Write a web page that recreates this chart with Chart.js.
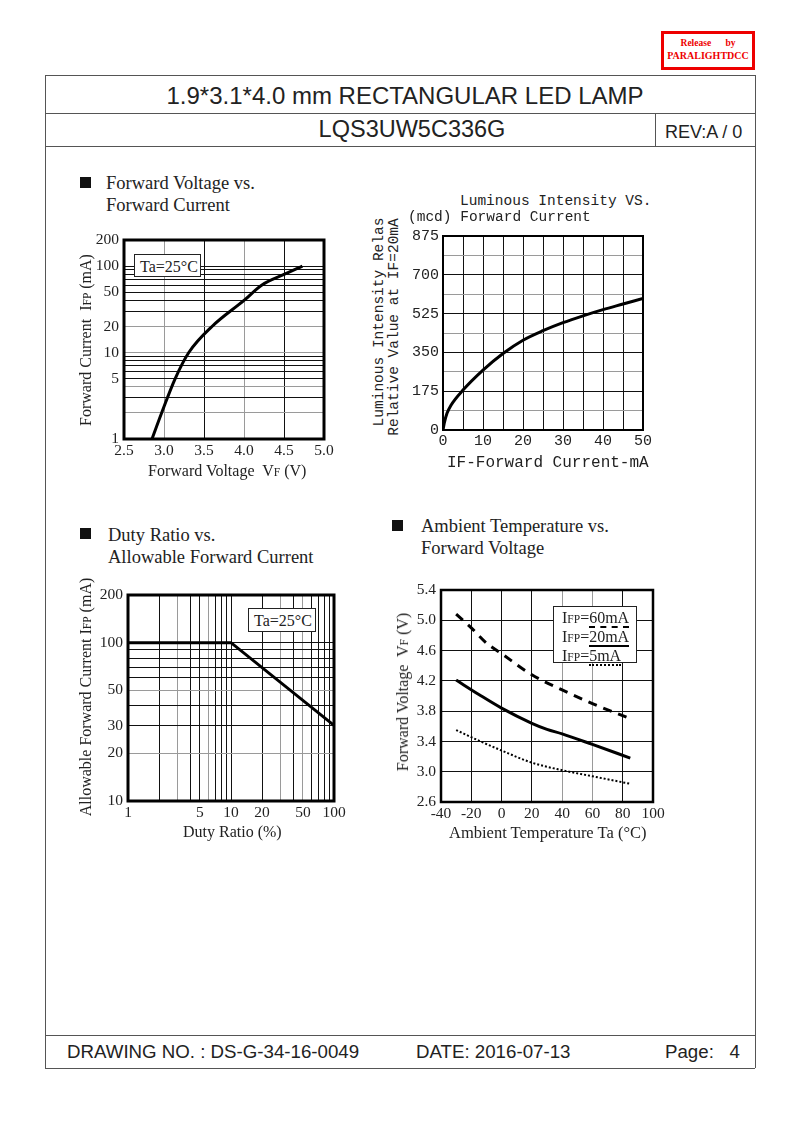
<!DOCTYPE html>
<html>
<head>
<meta charset="utf-8">
<script src="https://cdn.jsdelivr.net/npm/chart.js@4/dist/chart.umd.min.js"></script>
<style>
    body { margin: 0; background: #fff; }
    #page { position: relative; width: 793px; height: 1123px; overflow: hidden; font-family: "Liberation Serif", "Times New Roman", serif; color: #222; }
    .t { position: absolute; white-space: pre; line-height: 1; }
    .hl { position: absolute; height: 0; border-top: 1px solid #555; }
    .vl { position: absolute; width: 0; border-left: 1px solid #555; }
    canvas { position: absolute; }
    .sq { position: absolute; width: 11px; height: 11px; background: #111; }
    .head { position: absolute; font-size: 18.5px; line-height: 22px; white-space: pre; }
    .rot { position: absolute; white-space: pre; line-height: 1; transform: translate(-50%, -50%) rotate(-90deg); }
    .sc { font-size: 0.72em; }
    .box { position: absolute; border: 1px solid #222; background: #fff; font-size: 16px; box-sizing: border-box; z-index: 2; }
    .mono { font-family: "Liberation Mono", "DejaVu Sans Mono", monospace; }
    .sans { font-family: "Liberation Sans", Arial, sans-serif; }
</style>
</head>
<body>
<div id="page">
    <!-- stempel -->
    <div style="position:absolute;left:661px;top:31px;width:94px;height:39px;border:3px solid #e00;box-sizing:border-box;color:#e00;font-weight:bold;font-size:9.5px;text-align:center;">
        <div style="margin-top:4px;white-space:pre">Release      by</div>
        <div style="margin-top:2px;font-size:10px">PARALIGHTDCC</div>
    </div>

    <!-- bingkai halaman -->
    <div class="hl" style="left:45px;top:75px;width:710px"></div>
    <div class="hl" style="left:45px;top:113px;width:710px"></div>
    <div class="hl" style="left:45px;top:146px;width:710px"></div>
    <div class="hl" style="left:45px;top:1035px;width:710px"></div>
    <div class="hl" style="left:45px;top:1068px;width:710px"></div>
    <div class="vl" style="left:45px;top:75px;height:993px"></div>
    <div class="vl" style="left:755px;top:75px;height:993px"></div>
    <div class="vl" style="left:655px;top:113px;height:33px"></div>

    <div class="t sans" style="left:45px;top:84px;width:720px;text-align:center;font-size:24px">1.9*3.1*4.0 mm RECTANGULAR LED LAMP</div>
    <div class="t sans" style="left:170px;top:118px;width:484px;text-align:center;font-size:23.5px">LQS3UW5C336G</div>
    <div class="t sans" style="left:665px;top:123px;font-size:18px">REV:A / 0</div>

    <div class="t sans" style="left:67px;top:1043px;font-size:18.7px">DRAWING NO. : DS-G-34-16-0049</div>
    <div class="t sans" style="left:416px;top:1043px;font-size:18.7px">DATE: 2016-07-13</div>
    <div class="t sans" style="left:665px;top:1043px;font-size:18.7px">Page:   4</div>

    <!-- judul grafik -->
    <div class="sq" style="left:80px;top:177px"></div>
    <div class="head" style="left:106px;top:172px">Forward Voltage vs.<br>Forward Current</div>
    <div class="sq" style="left:80px;top:528px"></div>
    <div class="head" style="left:108px;top:524px">Duty Ratio vs.<br>Allowable Forward Current</div>
    <div class="sq" style="left:392px;top:520px"></div>
    <div class="head" style="left:421px;top:515px">Ambient Temperature vs.<br>Forward Voltage</div>

    <canvas id="fvChart"></canvas>
    <canvas id="liChart"></canvas>
    <canvas id="dutyChart"></canvas>
    <canvas id="tempChart"></canvas>

    <!-- label sumbu grafik 1 -->
    <div class="rot" style="left:86px;top:340px;font-size:16px">Forward Current  I<span class="sc">FP</span> (mA)</div>
    <div class="t" style="left:148px;top:463px;font-size:16px">Forward Voltage  V<span class="sc">F</span> (V)</div>
    <div class="box" style="left:134px;top:254px;width:67px;height:23px;padding:3px 0 0 5px">Ta=25°C</div>

    <!-- label grafik 2 -->
    <div class="t mono" style="left:460px;top:194px;font-size:14.5px">Luminous Intensity VS.</div>
    <div class="t mono" style="left:408px;top:210px;font-size:14.5px">(mcd) Forward Current</div>
    <div class="rot mono" style="left:379px;top:322px;font-size:14.5px">Luminous Intensity Relas</div>
    <div class="rot mono" style="left:394px;top:327px;font-size:14.5px">Relative Value at IF=20mA</div>
    <div class="t mono" style="left:447px;top:455px;font-size:16px">IF-Forward Current-mA</div>

    <!-- label grafik 3 -->
    <div class="rot" style="left:86px;top:697px;font-size:16px">Allowable Forward Current I<span class="sc">FP</span> (mA)</div>
    <div class="t" style="left:183px;top:824px;font-size:16px">Duty Ratio (%)</div>
    <div class="box" style="left:248px;top:608px;width:68px;height:24px;padding:3px 0 0 5px">Ta=25°C</div>

    <!-- label grafik 4 -->
    <div class="rot" style="left:403px;top:692px;font-size:16px">Forward Voltage  V<span class="sc">F</span> (V)</div>
    <div class="t" style="left:449px;top:825px;font-size:16.5px">Ambient Temperature Ta (°C)</div>
    <div class="box" style="left:553px;top:606px;width:84px;height:57px;padding:2px 0 0 8px;line-height:18px">
        <div>I<span class="sc">FP</span>=<span style="border-bottom:2.5px dashed #000">60mA</span></div>
        <div>I<span class="sc">FP</span>=<span style="border-bottom:2.5px solid #000">20mA</span></div>
        <div>I<span class="sc">FP</span>=<span style="border-bottom:2.5px dotted #000">5mA</span></div>
    </div>
</div>

<script>
// Grafik 1: Forward Voltage vs Forward Current
const fvVoltage = [2.85, 2.97, 3.14, 3.31, 3.6, 4.0, 4.22, 4.5, 4.73];
const fvCurrent = [1, 2, 5, 10, 20, 40, 60, 80, 100];
const fvXTicks = [2.5, 3.0, 3.5, 4.0, 4.5, 5.0];
const fvYTicks = [1, 2, 3, 4, 5, 6, 7, 8, 9, 10, 20, 30, 40, 50, 60, 70, 80, 90, 100, 200];
const fvYLabels = [1, 5, 10, 20, 50, 100, 200];

// Grafik 2: Luminous Intensity vs Forward Current
const liCurrent = [0, 0.3, 1, 2, 5, 10, 15, 20, 25, 30, 35, 40, 45, 50];
const liIntensity = [0, 30, 75, 112, 180, 270, 345, 405, 448, 484, 515, 543, 568, 593];
const liXTicks = [0, 5, 10, 15, 20, 25, 30, 35, 40, 45, 50];
const liYTicks = [0, 87.5, 175, 262.5, 350, 437.5, 525, 612.5, 700, 787.5, 875];

// Grafik 3: Duty Ratio vs Allowable Forward Current
const dutyRatio = [1, 10, 100];
const dutyCurrent = [100, 100, 30];
const dutyXTicks = [1, 2, 3, 4, 5, 6, 7, 8, 9, 10, 20, 30, 40, 50, 60, 70, 80, 90, 100];
const dutyXLabels = [1, 5, 10, 20, 50, 100];
const dutyYTicks = [10, 20, 30, 40, 50, 60, 70, 80, 90, 100, 200];
const dutyYLabels = [10, 20, 30, 50, 100, 200];

// Grafik 4: Ambient Temperature vs Forward Voltage
const temp60 = [-30, -20, -10, 0, 20, 40, 60, 85];
const vf60 = [5.08, 4.9, 4.7, 4.56, 4.28, 4.08, 3.9, 3.7];
const temp20 = [-30, -15, 0, 20, 30, 40, 60, 85];
const vf20 = [4.21, 4.02, 3.84, 3.64, 3.56, 3.5, 3.36, 3.18];
const temp5 = [-30, -15, 0, 20, 40, 60, 85];
const vf5 = [3.55, 3.41, 3.28, 3.12, 3.02, 2.94, 2.84];
const tempXTicks = [-40, -20, 0, 20, 40, 60, 80, 100];
const tempYTicks = [2.6, 3.0, 3.4, 3.8, 4.2, 4.6, 5.0, 5.4];

const BLACK = "#111";
const GRAY = "#9a9a9a";
const SERIF = "'Liberation Serif', 'Times New Roman', serif";
const MONO = "'Liberation Mono', 'DejaVu Sans Mono', monospace";

// Garis tepi tebal di sekeliling area plot
const frameBorder = {
    id: "frameBorder",
    afterDraw(chart, args, opts) {
        const { ctx, chartArea: a } = chart;
        ctx.save();
        ctx.strokeStyle = "#000";
        ctx.lineWidth = opts.width || 2.5;
        ctx.strokeRect(a.left, a.top, a.right - a.left, a.bottom - a.top);
        ctx.restore();
    },
};

function toPoints(xs, ys) {
    return xs.map((x, i) => ({ x: x, y: ys[i] }));
}

// Posisikan canvas agar area plot tepat di koordinat yang diinginkan
function placeCanvas(id, plot, pad) {
    const c = document.getElementById(id);
    c.width = pad.left + plot.w + pad.right;
    c.height = pad.top + plot.h + pad.bottom;
    c.style.left = (plot.x - pad.left) + "px";
    c.style.top = (plot.y - pad.top) + "px";
    return c.getContext("2d");
}

function axis(type, ticks, labelFn, grayList, font, size, pad) {
    return {
        type: type,
        min: ticks[0],
        max: ticks[ticks.length - 1],
        afterBuildTicks: (s) => { s.ticks = ticks.map((v) => ({ value: v })); },
        ticks: {
            autoSkip: false,
            maxRotation: 0,
            padding: pad,
            color: "#222",
            font: { family: font, size: size },
            callback: labelFn,
        },
        grid: {
            drawTicks: false,
            lineWidth: 1,
            color: (c) => (c.tick && grayList.includes(c.tick.value) ? GRAY : BLACK),
        },
        border: { display: false },
    };
}

function baseOptions(padTop, padRight, yWidth, xHeight, frameWidth) {
    return {
        responsive: false,
        animation: false,
        devicePixelRatio: 1,
        layout: { padding: { top: padTop, right: padRight, left: 0, bottom: 0 } },
        plugins: { legend: { display: false }, tooltip: { enabled: false }, frameBorder: { width: frameWidth } },
        elements: { point: { radius: 0 } },
        _yWidth: yWidth,
        _xHeight: xHeight,
    };
}

function fixSizes(opts) {
    opts.scales.x.afterFit = (s) => { s.height = opts._xHeight; };
    opts.scales.y.afterFit = (s) => { s.width = opts._yWidth; };
    return opts;
}

// Grafik 1
const fvPad = { left: 84, right: 20, top: 15, bottom: 30 };
const fvCtx = placeCanvas("fvChart", { x: 124, y: 240, w: 200, h: 199 }, fvPad);
const fvOpts = baseOptions(fvPad.top, fvPad.right, fvPad.left, fvPad.bottom, 3);
fvOpts.scales = {
    x: axis("linear", fvXTicks, (v) => Number(v).toFixed(1), [3.0, 4.0], SERIF, 15.5, 3),
    y: axis("logarithmic", fvYTicks, (v) => (fvYLabels.includes(v) ? String(v) : ""), [2, 4, 10, 20], SERIF, 15.5, 5),
};
const fvChart = new Chart(fvCtx, {
    type: "line",
    data: {
        datasets: [{
            data: toPoints(fvVoltage, fvCurrent),
            borderColor: "#000",
            borderWidth: 3,
            cubicInterpolationMode: "monotone",
        }],
    },
    options: fixSizes(fvOpts),
    plugins: [frameBorder],
});

// Grafik 2
const liPad = { left: 40, right: 22, top: 15, bottom: 30 };
const liCtx = placeCanvas("liChart", { x: 443, y: 236, w: 200, h: 194 }, liPad);
const liOpts = baseOptions(liPad.top, liPad.right, liPad.left, liPad.bottom, 2);
liOpts.scales = {
    x: axis("linear", liXTicks, (v) => (v % 10 === 0 ? String(v) : ""), [], MONO, 15, 2),
    y: axis("linear", liYTicks, (v) => (v % 175 === 0 ? String(v) : ""), [87.5, 262.5, 437.5, 612.5, 787.5], MONO, 15, 4),
};
const liChart = new Chart(liCtx, {
    type: "line",
    data: {
        datasets: [{
            data: toPoints(liCurrent, liIntensity),
            borderColor: "#000",
            borderWidth: 3,
            cubicInterpolationMode: "monotone",
        }],
    },
    options: fixSizes(liOpts),
    plugins: [frameBorder],
});

// Grafik 3
const dutyPad = { left: 30, right: 20, top: 15, bottom: 30 };
const dutyCtx = placeCanvas("dutyChart", { x: 128, y: 595, w: 206, h: 206 }, dutyPad);
const dutyOpts = baseOptions(dutyPad.top, dutyPad.right, dutyPad.left, dutyPad.bottom, 3);
dutyOpts.scales = {
    x: axis("logarithmic", dutyXTicks, (v) => (dutyXLabels.includes(v) ? String(v) : ""), [3, 6, 30, 50], SERIF, 15.5, 3),
    y: axis("logarithmic", dutyYTicks, (v) => (dutyYLabels.includes(v) ? String(v) : ""), [20, 50], SERIF, 15.5, 5),
};
const dutyChart = new Chart(dutyCtx, {
    type: "line",
    data: {
        datasets: [{
            data: toPoints(dutyRatio, dutyCurrent),
            borderColor: "#000",
            borderWidth: 3,
        }],
    },
    options: fixSizes(dutyOpts),
    plugins: [frameBorder],
});

// Grafik 4
const tempPad = { left: 35, right: 25, top: 15, bottom: 30 };
const tempCtx = placeCanvas("tempChart", { x: 441, y: 590, w: 212, h: 212 }, tempPad);
const tempOpts = baseOptions(tempPad.top, tempPad.right, tempPad.left, tempPad.bottom, 2.5);
tempOpts.scales = {
    x: axis("linear", tempXTicks, (v) => String(v), [40, 60], SERIF, 15.5, 3),
    y: axis("linear", tempYTicks, (v) => Number(v).toFixed(1), [], SERIF, 15.5, 5),
};
const tempChart = new Chart(tempCtx, {
    type: "line",
    data: {
        datasets: [
            {
                label: "IFP=60mA",
                data: toPoints(temp60, vf60),
                borderColor: "#000",
                borderWidth: 3,
                borderDash: [9, 7],
                cubicInterpolationMode: "monotone",
            },
            {
                label: "IFP=20mA",
                data: toPoints(temp20, vf20),
                borderColor: "#000",
                borderWidth: 3,
                cubicInterpolationMode: "monotone",
            },
            {
                label: "IFP=5mA",
                data: toPoints(temp5, vf5),
                borderColor: "#000",
                borderWidth: 2,
                borderDash: [2, 2],
                cubicInterpolationMode: "monotone",
            },
        ],
    },
    options: fixSizes(tempOpts),
    plugins: [frameBorder],
});
</script>
</body>
</html>
